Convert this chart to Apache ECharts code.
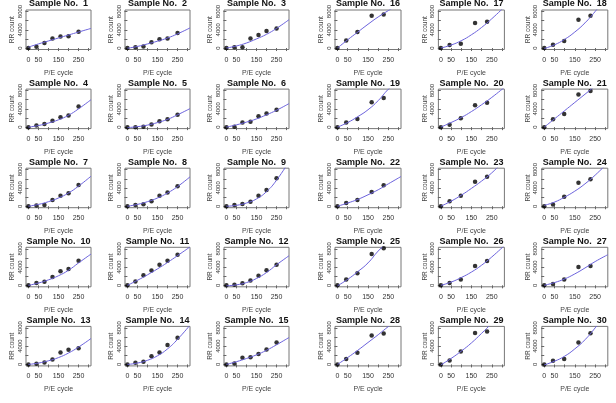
<!DOCTYPE html>
<html lang="en">
  <head>
    <meta charset="UTF-8" />
    <title>Sample No.</title>
    <script src="https://cdn.jsdelivr.net/npm/echarts@6/dist/echarts.min.js"></script>
    <style>
      html,
      body {
        margin: 0;
        padding: 0;
        background: #fff;
      }
      #chart {
        width: 616px;
        height: 403px;
      }
    </style>
  </head>
  <body>
    <div id="chart"></div>
    <script>
      // P/E cycles where RR count was measured
      const cycleA = [0, 40, 80, 120, 160, 200, 250]; // samples 1-15
      const cycleB = [0, 43, 98, 168, 227]; // samples 16-30
      // P/E cycles where the fitted curve was read off
      const fitCycle = [0, 50, 100, 150, 200, 250, 312];

      const xTicks = [0, 50, 100, 150, 200, 250, 300];
      const xLabels = [0, 50, 150, 250];
      const yTicks = [0, 2000, 4000, 6000, 8000];
      const yLabels = [0, 4000, 8000];

      // RR count, samples 1-15
      const countA = [
        [0, 300, 1100, 2100, 2500, 2600, 3550],
        [0, 150, 350, 1250, 1900, 2100, 3270],
        [0, 150, 150, 2100, 2850, 3700, 4300],
        [0, 350, 700, 1400, 2150, 2550, 4500],
        [0, 0, 70, 570, 1300, 1700, 2700],
        [0, 70, 1000, 1200, 2400, 3000, 3800],
        [0, 140, 290, 1360, 2290, 2860, 4640],
        [0, 290, 430, 1070, 2290, 3000, 4360],
        [0, 290, 500, 1000, 2290, 3570, 6140],
        [0, 500, 790, 1800, 3090, 3600, 5400],
        [0, 860, 2230, 3240, 4530, 5400, 6700],
        [0, 140, 430, 1080, 2090, 3310, 4530],
        [0, 140, 430, 1060, 2620, 3190, 3550],
        [0, 350, 570, 1770, 2620, 4260, 5820],
        [0, 210, 1490, 1560, 2270, 3260, 4820],
      ];
      const fitA = [
        [200, 900, 1550, 2200, 2850, 3500, 4290],
        [-50, 350, 900, 1500, 2200, 3100, 4400],
        [0, 450, 1100, 2000, 3000, 4300, 6200],
        [0, 350, 900, 1600, 2600, 4000, 6000],
        [-100, 100, 450, 1000, 1700, 2700, 4050],
        [0, 500, 1100, 1800, 2700, 3700, 5150],
        [0, 400, 1000, 1800, 2900, 4400, 6570],
        [0, 400, 1000, 1800, 2900, 4300, 6430],
        [0, 200, 700, 1600, 3200, 5700, 9800],
        [0, 500, 1200, 2100, 3300, 4900, 6840],
        [0, 1100, 2300, 3600, 5000, 6500, 8400],
        [-100, 100, 600, 1500, 2800, 4500, 6470],
        [0, 300, 800, 1500, 2500, 3800, 5670],
        [0, 300, 900, 1900, 3400, 5500, 8600],
        [0, 600, 1300, 2100, 3100, 4300, 5890],
      ];

      // RR count, samples 16-30
      const countB = [
        [0, 1670, 3500, 7050, 7350],
        [0, 650, 950, 5450, 5750],
        [0, 730, 1530, 6200, 7050],
        [0, 1000, 1800, 5430, 6360],
        [0, 500, 1930, 4800, 5350],
        [0, 1700, 2850, 7150, 7930],
        [0, 710, 1360, 3140, 4570],
        [0, 1070, 2290, 5360, 6430],
        [0, 360, 2070, 5140, 5930],
        [0, 1300, 2660, 6830, 8130],
        [0, 500, 1300, 4240, 5320],
        [0, 290, 1300, 4030, 4240],
        [0, 1200, 2550, 6310, 6740],
        [0, 850, 2840, 6880, 7230],
        [0, 780, 1210, 4820, 6810],
      ];
      const fitB = [
        [0, 1800, 3500, 5200, 6800, 8200, 9900],
        [0, 650, 1600, 2900, 4500, 6400, 9000],
        [-100, 700, 1900, 3500, 5500, 8000, 11500],
        [0, 1000, 2300, 3800, 5800, 8300, 10800],
        [0, 1000, 2100, 3400, 4900, 6500, 8700],
        [0, 1800, 3600, 5400, 7200, 9000, 11200],
        [0, 700, 1500, 2500, 3600, 4900, 6500],
        [0, 1100, 2400, 3900, 5500, 7300, 10000],
        [200, 900, 2000, 3300, 4900, 6800, 9500],
        [-100, 1300, 3000, 4900, 7500, 9700, 13000],
        [0, 700, 1700, 2900, 4400, 6200, 8700],
        [0, 600, 1400, 2500, 3800, 5200, 6700],
        [0, 1500, 3100, 4800, 6500, 8300, 10400],
        [-100, 1300, 2900, 4700, 6800, 9000, 11800],
        [-100, 700, 1800, 3400, 5400, 8000, 11500],
      ];

      const chart = echarts.init(document.getElementById("chart"));

      const font = "Liberation Sans, Arial, sans-serif";
      const fitColor = "#6c63dc";

      const grid = [];
      const xAxis = [];
      const yAxis = [];
      const series = [];
      const graphic = [];

      function addPanel(no, left, top, width, height, cycles, counts, fit) {
        const i = grid.length;
        grid.push({
          left: left,
          top: top,
          width: width,
          height: height,
          show: true,
          borderColor: "#777",
          borderWidth: 1,
          backgroundColor: "transparent",
        });
        xAxis.push({
          type: "value",
          gridIndex: i,
          min: -12,
          max: 312,
          name: "P/E cycle",
          nameLocation: "middle",
          nameGap: 20,
          nameTextStyle: { fontSize: 7, color: "#444", fontFamily: font },
          axisLine: { show: false },
          splitLine: { show: false },
          axisTick: {
            show: true,
            length: 3,
            customValues: xTicks,
            lineStyle: { color: "#666" },
          },
          axisLabel: {
            customValues: xLabels,
            fontSize: 7,
            margin: 7,
            color: "#333",
            fontFamily: font,
          },
        });
        yAxis.push({
          type: "value",
          gridIndex: i,
          min: -320,
          max: 8320,
          name: "RR count",
          nameLocation: "middle",
          nameGap: 10,
          nameTextStyle: { fontSize: 6.5, color: "#444", fontFamily: font },
          axisLine: { show: false },
          splitLine: { show: false },
          axisTick: {
            show: true,
            length: 3,
            customValues: yTicks,
            lineStyle: { color: "#666" },
          },
          axisLabel: {
            customValues: yLabels,
            formatter: (v) => String(v),
            rotate: 90,
            fontSize: 6,
            margin: 3,
            color: "#333",
            fontFamily: font,
          },
        });
        series.push({
          type: "line",
          xAxisIndex: i,
          yAxisIndex: i,
          data: fitCycle.map((c, k) => [c, fit[k]]),
          smooth: true,
          showSymbol: false,
          clip: true,
          silent: true,
          lineStyle: { color: fitColor, width: 1 },
        });
        series.push({
          type: "scatter",
          xAxisIndex: i,
          yAxisIndex: i,
          data: cycles.map((c, k) => [c, counts[k]]),
          symbolSize: 4.5,
          itemStyle: { color: "#000" },
        });
        graphic.push({
          type: "text",
          x: left + width / 2,
          y: top - 6,
          style: {
            text: "Sample No.  " + no,
            fontSize: 9,
            fontWeight: "bold",
            fontFamily: font,
            fill: "#111",
            textAlign: "center",
            textVerticalAlign: "middle",
          },
        });
      }

      for (let r = 0; r < 5; r++) {
        const top = 10 + 79.1 * r;
        for (let c = 0; c < 3; c++) {
          const k = r * 3 + c;
          addPanel(k + 1, 26 + 99 * c, top, 65, 39.5, cycleA, countA[k], fitA[k]);
          addPanel(k + 16, 335 + 103.4 * c, top, 66, 39.5, cycleB, countB[k], fitB[k]);
        }
      }

      chart.setOption({
        animation: false,
        grid: grid,
        xAxis: xAxis,
        yAxis: yAxis,
        series: series,
        graphic: graphic,
      });
    </script>
  </body>
</html>
